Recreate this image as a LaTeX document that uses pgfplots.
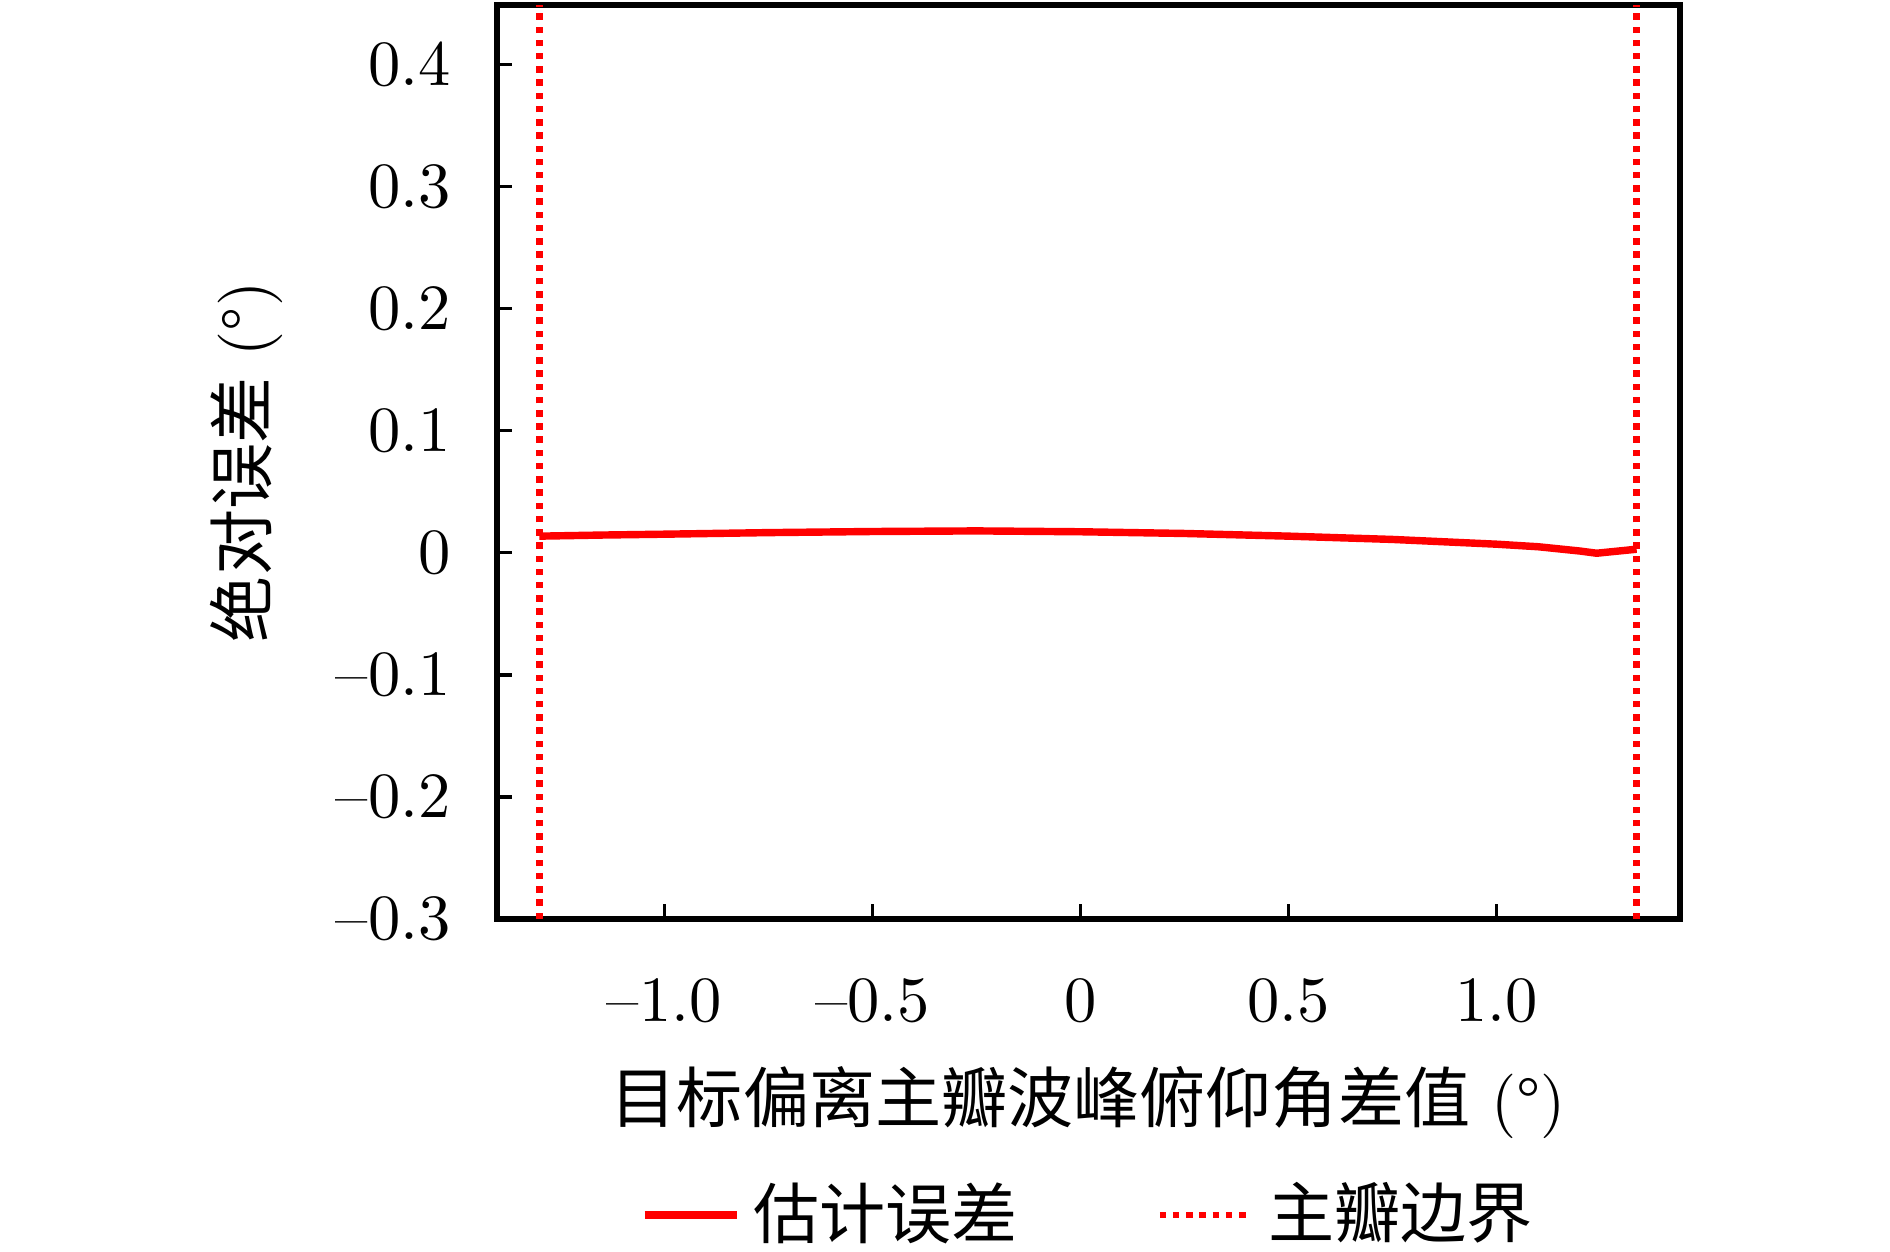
\documentclass[border=0pt]{standalone}
\usepackage{fontspec}
\newfontfamily\cjk{Noto Sans CJK SC}[Scale=1.025]
\usepackage{pgfplots}
\pgfplotsset{compat=1.18}
\definecolor{myred}{RGB}{255,0,0}
\begin{document}
\begin{tikzpicture}
\useasboundingbox (-77.05pt,-51.63pt) rectangle (215.97pt,142.48pt);
\begin{axis}[
  at={(0,0)}, anchor=south west,
  scale only axis,
  width=183.4pt, height=141.71pt,
  xmin=-1.402, xmax=1.440,
  ymin=-0.3, ymax=0.449,
  axis line style={line width=0.85pt},
  tick align=inside,
  tick pos=left,
  major tick length=2.3pt,
  every tick/.style={black, line width=0.5pt},
  xtick={-1,-0.5,0,0.5,1},
  xticklabels={\textendash1.0,\textendash0.5,0,0.5,1.0},
  ytick={-0.3,-0.2,-0.1,0,0.1,0.2,0.3,0.4},
  yticklabels={\textendash0.3,\textendash0.2,\textendash0.1,0,0.1,0.2,0.3,0.4},
  xticklabel style={yshift=-5.7pt},
  yticklabel style={xshift=-3.65pt},
  every axis x label/.style={at={(axis description cs:0.5,-0.2223)}, anchor=base},
  every axis y label/.style={at={(axis description cs:-0.1945,0.5)}, rotate=90, anchor=base},
  xlabel={{\cjk 目标偏离主瓣波峰俯仰角差值} (°)},
  ylabel={{\cjk 绝对误差} (°)},
  legend columns=2,
  legend style={at={(axis description cs:0.504,-0.324)}, anchor=center, draw=none, fill=none,
    /tikz/every even column/.append style={column sep=19.5pt}},
  legend image code/.code={\draw[#1] (0pt,0pt) -- (14.3pt,0pt);},
]
\addplot[myred, line width=1.15pt, mark=none] coordinates {
(-1.300,0.0137) (-1.15,0.0146) (-1.0,0.0153) (-0.75,0.0166) (-0.5,0.0175) (-0.25,0.0180)
(0.0,0.0173) (0.25,0.0159) (0.5,0.0137) (0.75,0.0110) (1.0,0.0071) (1.1,0.0050)
(1.2,0.0015) (1.24,-0.0003) (1.336,0.0030)
};
\addlegendentry{{\cjk 估计误差}}
\addplot[myred, line width=1.0pt, dash pattern=on 1.0pt off 1.05pt, mark=none] coordinates {(-1.300,-0.3) (-1.300,0.449)};
\addlegendentry{{\cjk 主瓣边界}}
\addplot[myred, line width=1.0pt, dash pattern=on 1.0pt off 1.05pt, mark=none, forget plot] coordinates {(1.336,-0.3) (1.336,0.449)};
\end{axis}
\end{tikzpicture}
\end{document}
